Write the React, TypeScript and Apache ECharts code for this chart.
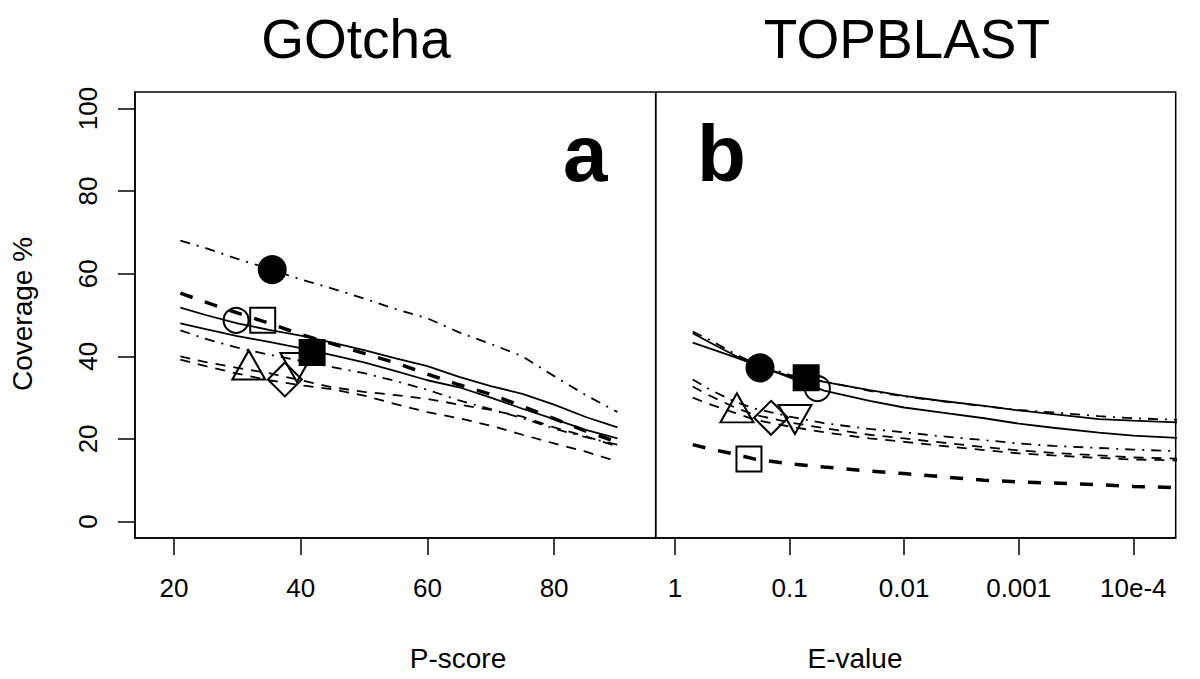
import React, { useEffect, useRef } from 'react';
import * as echarts from 'echarts';

// ---------- data ----------
const pScores = [21, 25, 30, 35, 40, 45, 50, 55, 60, 65, 70, 75, 80, 85, 90];
const gotchaDotDashTop = [68, 66.2, 63.6, 61.2, 58.6, 56.4, 54, 51.4, 49.2, 45.8, 43, 40, 35.2, 30.6, 26.5];
const gotchaBoldDash = [55.3, 53.1, 50.5, 48, 45.3, 43, 40.7, 38.4, 35.7, 33.1, 30.8, 27.9, 24.9, 21.9, 19.2];
const gotchaSolidUpper = [51.8, 50, 48, 46.4, 45, 43.3, 41.5, 39.5, 37.6, 35, 32.8, 30.9, 28.3, 25.3, 22.8];
const gotchaSolidLower = [48, 46.6, 44.9, 43.5, 42, 40.3, 38.5, 36.4, 34.2, 32.5, 30, 27.3, 24.8, 22.2, 20.1];
const gotchaDotDashLower = [46.3, 44.2, 42.1, 40.4, 38.9, 37.4, 35.9, 34, 31.9, 29.3, 27.2, 25, 22.5, 20.4, 18.6];
const gotchaDashUpper = [40, 38.6, 37.2, 35.9, 34.2, 32.5, 31.4, 30.6, 29.7, 28.3, 27, 25.4, 22.8, 20.6, 18.2];
const gotchaDashLower = [39.2, 37.6, 35.8, 34.2, 33, 32, 30.5, 28.4, 26.5, 25, 23.2, 21, 18.9, 16.9, 14.5];

const eValues = [0.7, 0.5, 0.3, 0.2, 0.1, 0.05, 0.02, 0.01, 0.005, 0.002, 0.001, 5e-4, 2e-4, 1e-4, 4e-5];
const topblastSolidSteep = [45.6, 43.4, 40.2, 37.8, 35.2, 33.8, 31.8, 30.4, 29.3, 28, 26.9, 26, 24.8, 24.4, 24];
const topblastSolidFlat = [43.3, 41.9, 39.8, 38, 34.9, 31.7, 29.2, 27.6, 26.5, 25, 23.7, 22.7, 21.5, 20.8, 20.2];
const topblastDotDashTop = [46, 44, 40.6, 38.2, 35.5, 33.9, 31.6, 30.3, 29.2, 27.9, 27, 26.4, 25.5, 25, 24.6];
const topblastDotDashMid = [34.4, 32, 29, 27.3, 25.4, 23.8, 22.4, 21.6, 20.7, 19.7, 18.9, 18.3, 17.8, 17.4, 17];
const topblastDashUpper = [32.7, 30.5, 27.6, 25.8, 24, 22.6, 21, 20.1, 19.2, 18, 17.2, 16.6, 16, 15.5, 15.2];
const topblastDashLower = [30, 28.4, 26.3, 24.6, 23, 21.6, 20.1, 19.3, 18.4, 17.3, 16.5, 16, 15.4, 15, 14.8];
const topblastBoldDash = [18.6, 17.6, 16.3, 15.1, 14, 13.2, 12.2, 11.6, 10.9, 10, 9.6, 9.3, 8.9, 8.5, 8.2];

// markers: [x, coverage]
const gotchaFilledCircle = [35.5, 61];
const gotchaOpenCircle = [29.8, 48.7];
const gotchaOpenSquare = [34, 48.7];
const gotchaFilledSquare = [41.8, 40.9];
const gotchaTriUp = [31.8, 37.9];
const gotchaDiamond = [37.5, 34.4];
const gotchaTriDown = [39.4, 37.3];

const topblastFilledCircle = [0.181, 37.2];
const topblastFilledSquare = [0.0716, 34.8];
const topblastOpenCircle = [0.0571, 32.2];
const topblastTriUp = [0.288, 27.5];
const topblastDiamond = [0.145, 25.1];
const topblastTriDown = [0.0897, 24.7];
const topblastOpenSquare = [0.226, 15.1];

const pTicks = [20, 40, 60, 80];
const eTicks = [1, 0.1, 0.01, 0.001, 1e-4];
const eTickLabels = ['1', '0.1', '0.01', '0.001', '10e-4'];
const yTicks = [0, 20, 40, 60, 80, 100];

const FONT = '"Liberation Sans", Arial, Helvetica, sans-serif';
const toT = (e: number) => -Math.log10(e);

function App() {
  const ref = useRef<HTMLDivElement>(null);
  useEffect(() => {
    document.body.style.margin = '0';
    const chart = echarts.init(ref.current!, null, { renderer: 'svg' });

    const thin = 1.8;
    const dotdash = [10, 7, 2, 7];
    const dash = [10, 8];
    const bold = [13, 13];

    const line = (name: string, xIdx: number, xs: number[], ys: number[], width: number, type: any) => ({
      name,
      type: 'line',
      xAxisIndex: xIdx,
      yAxisIndex: xIdx,
      data: xs.map((x, i) => [x, ys[i]]),
      symbol: 'none',
      smooth: false,
      clip: true,
      silent: true,
      lineStyle: { color: '#000', width, type },
      z: 2,
    });

    const mark = (name: string, xIdx: number, pt: number[], symbol: string, size: any, filled: boolean, rotate = 0) => ({
      name,
      type: 'scatter',
      xAxisIndex: xIdx,
      yAxisIndex: xIdx,
      data: [[pt[0], pt[1]]],
      symbol,
      symbolSize: size,
      symbolRotate: rotate,
      silent: true,
      itemStyle: {
        color: filled ? '#000' : 'rgba(0,0,0,0)',
        borderColor: '#000',
        borderWidth: 2,
        opacity: 1,
      },
      z: 5,
    });

    const tp = (p: number[]) => [toT(p[0]), p[1]];
    const eT = eValues.map(toT);

    const tickStyle = { show: true, length: 17, inside: false, lineStyle: { color: '#000', width: 1.5 } };
    const labelStyle = { color: '#000', fontSize: 26, fontFamily: FONT };
    const nameFont = `28px ${FONT}`;

    const option: any = {
      animation: false,
      backgroundColor: '#fff',
      grid: [
        { left: 135, top: 92, width: 520.7, height: 446, show: true, borderColor: '#000', borderWidth: 1.5, backgroundColor: 'transparent', containLabel: false, outerBoundsMode: 'none' },
        { left: 655.7, top: 92, width: 520, height: 446, show: true, borderColor: '#000', borderWidth: 1.5, backgroundColor: 'transparent', containLabel: false, outerBoundsMode: 'none' },
      ],
      xAxis: [
        {
          type: 'value', gridIndex: 0, min: 13.84, max: 96.04,
          axisLine: { show: true, onZero: false, lineStyle: { color: '#000', width: 1.5 } },
          axisTick: { ...tickStyle, customValues: pTicks },
          axisLabel: { ...labelStyle, margin: 37, customValues: pTicks },
          splitLine: { show: false },
        },
        {
          type: 'value', gridIndex: 1, min: -0.168, max: 4.37,
          axisLine: { show: true, onZero: false, lineStyle: { color: '#000', width: 1.5 } },
          axisTick: { ...tickStyle, customValues: eTicks.map(toT) },
          axisLabel: {
            ...labelStyle, margin: 37, customValues: eTicks.map(toT),
            formatter: (v: number) => {
              const i = eTicks.findIndex((e) => Math.abs(toT(e) - v) < 1e-6);
              return i >= 0 ? eTickLabels[i] : '';
            },
          },
          splitLine: { show: false },
        },
      ],
      yAxis: [
        {
          type: 'value', gridIndex: 0, min: -4, max: 104,
          axisLine: { show: true, onZero: false, lineStyle: { color: '#000', width: 1.5 } },
          axisTick: { ...tickStyle, customValues: yTicks },
          axisLabel: { ...labelStyle, margin: 34, rotate: 90, customValues: yTicks },
          splitLine: { show: false },
        },
        {
          type: 'value', gridIndex: 1, min: -4, max: 104,
          axisLine: { show: false }, axisTick: { show: false }, axisLabel: { show: false },
          splitLine: { show: false },
        },
      ],
      graphic: [
        { type: 'text', x: 356, y: 39, style: { text: 'GOtcha', fill: '#000', font: `55px ${FONT}`, align: 'center', verticalAlign: 'middle', textAlign: 'center', textVerticalAlign: 'middle' } },
        { type: 'text', x: 907, y: 39, style: { text: 'TOPBLAST', fill: '#000', font: `55px ${FONT}`, align: 'center', verticalAlign: 'middle', textAlign: 'center', textVerticalAlign: 'middle' } },
        { type: 'text', x: 563, y: 153, style: { text: 'a', fill: '#000', font: `bold 80px ${FONT}`, align: 'left', verticalAlign: 'middle', textAlign: 'left', textVerticalAlign: 'middle' } },
        { type: 'text', x: 697, y: 153, style: { text: 'b', fill: '#000', font: `bold 80px ${FONT}`, align: 'left', verticalAlign: 'middle', textAlign: 'left', textVerticalAlign: 'middle' } },
        { type: 'text', x: 458, y: 658, style: { text: 'P-score', fill: '#000', font: nameFont, align: 'center', verticalAlign: 'middle', textAlign: 'center', textVerticalAlign: 'middle' } },
        { type: 'text', x: 855, y: 658, style: { text: 'E-value', fill: '#000', font: nameFont, align: 'center', verticalAlign: 'middle', textAlign: 'center', textVerticalAlign: 'middle' } },
        { type: 'text', x: 22, y: 314, rotation: Math.PI / 2, style: { text: 'Coverage %', fill: '#000', font: nameFont, align: 'center', verticalAlign: 'middle', textAlign: 'center', textVerticalAlign: 'middle' } },
      ],
      series: [
        line('GOtcha dot-dash top', 0, pScores, gotchaDotDashTop, thin, dotdash),
        line('GOtcha bold dash', 0, pScores, gotchaBoldDash, 3.5, bold),
        line('GOtcha solid upper', 0, pScores, gotchaSolidUpper, thin, 'solid'),
        line('GOtcha solid lower', 0, pScores, gotchaSolidLower, thin, 'solid'),
        line('GOtcha dot-dash lower', 0, pScores, gotchaDotDashLower, thin, dotdash),
        line('GOtcha dash upper', 0, pScores, gotchaDashUpper, thin, dash),
        line('GOtcha dash lower', 0, pScores, gotchaDashLower, thin, dash),
        line('TOPBLAST solid steep', 1, eT, topblastSolidSteep, thin, 'solid'),
        line('TOPBLAST solid flat', 1, eT, topblastSolidFlat, thin, 'solid'),
        line('TOPBLAST dot-dash top', 1, eT, topblastDotDashTop, thin, dotdash),
        line('TOPBLAST dot-dash mid', 1, eT, topblastDotDashMid, thin, dotdash),
        line('TOPBLAST dash upper', 1, eT, topblastDashUpper, thin, dash),
        line('TOPBLAST dash lower', 1, eT, topblastDashLower, thin, dash),
        line('TOPBLAST bold dash', 1, eT, topblastBoldDash, 3.5, bold),
        mark('g filled circle', 0, gotchaFilledCircle, 'circle', 27, true),
        mark('g open circle', 0, gotchaOpenCircle, 'circle', 25, false),
        mark('g open square', 0, gotchaOpenSquare, 'rect', 25, false),
        mark('g filled square', 0, gotchaFilledSquare, 'rect', 25, true),
        mark('g tri up', 0, gotchaTriUp, 'triangle', [33, 29], false),
        mark('g diamond', 0, gotchaDiamond, 'diamond', [34, 34], false),
        mark('g tri down', 0, gotchaTriDown, 'triangle', [33, 29], false, 180),
        mark('t filled circle', 1, tp(topblastFilledCircle), 'circle', 27, true),
        mark('t filled square', 1, tp(topblastFilledSquare), 'rect', 25, true),
        mark('t open circle', 1, tp(topblastOpenCircle), 'circle', 25, false),
        mark('t tri up', 1, tp(topblastTriUp), 'triangle', [33, 29], false),
        mark('t diamond', 1, tp(topblastDiamond), 'diamond', [34, 34], false),
        mark('t tri down', 1, tp(topblastTriDown), 'triangle', [33, 29], false, 180),
        mark('t open square', 1, tp(topblastOpenSquare), 'rect', 25, false),
      ],
    };
    chart.setOption(option);
    return () => chart.dispose();
  }, []);
  return <div ref={ref} style={{ width: 1200, height: 679 }} />;
}

export default App;
